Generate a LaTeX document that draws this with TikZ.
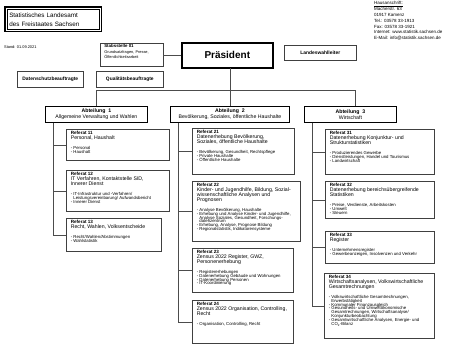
\documentclass[tikz,border=0pt]{standalone}
\usepackage{fontspec}
\setmainfont{Liberation Sans}
\tikzset{
  box/.style={draw=black!75, line width=0.6pt, anchor=north west, inner sep=0pt},
  refbox/.style={draw=black!75, line width=0.6pt, anchor=north west, inner xsep=4.5pt, inner ysep=2.3pt},
  abtbox/.style={draw=black, line width=0.9pt, anchor=north west, inner sep=0pt,
    minimum height=16pt, align=center, font=\fontsize{5.2}{5.9}\selectfont},
  smallbold/.style={font=\fontsize{4.9}{5.5}\selectfont\bfseries},
  link/.style={draw=black!70, line width=0.5pt}
}

\begin{document}
\begin{tikzpicture}[x=1pt, y=-1pt, line cap=rect, line join=miter]
  \useasboundingbox (0,0) rectangle (465,349);

  % Referat box helper: name, x1, y1, x2, y2, text
  \newcommand{\Referat}[6]{%
    \pgfmathsetmacro{\RW}{#4-#2-9}%
    \pgfmathsetmacro{\RH}{#5-#3-4.6}%
    \node[refbox] (#1) at (#2,#3) {\parbox[c][\RH pt][t]{\RW pt}{\raggedright #6}};%
  }
  \newcommand{\RTitle}[1]{{\fontsize{4.6}{5}\selectfont\bfseries #1\par}}
  \newcommand{\RSub}[1]{{\fontsize{5.2}{5}\selectfont #1\par}\vspace{5.4pt}}
  \newcommand{\RItems}[1]{{\fontsize{4.3}{3.9}\selectfont\lineskiplimit=-2pt #1\par}}
  \newcommand{\ind}{\hspace*{2.6pt}}

  % Header
  \node[draw=black, line width=0.5pt, anchor=north west, minimum height=19pt,
    text width=88pt, inner xsep=2pt, align=left,
    font=\fontsize{6.3}{9}\selectfont] (amt) at (7,9)
    {Statistisches Landesamt\\des Freistaates Sachsen};
  \draw[line width=1.4pt] ([shift={(-2pt,2pt)}]amt.north west) rectangle ([shift={(2pt,-2pt)}]amt.south east);
  \node[anchor=west, inner sep=0pt, font=\fontsize{3.9}{4}\selectfont] (stand) at (4,47) {Stand: 01.09.2021};

  % Address
  \node[anchor=north west, inner sep=0pt, align=left, font=\fontsize{4.5}{5.8}\selectfont] (adr) at (374,1.5)
    {\underline{Hausanschrift:}\\Macherstr. 63\\01917 Kamenz\\Tel.: 03578 33-1913\\Fax: 03578 33-1921\\
     Internet: www.statistik.sachsen.de\\E-Mail: info@statistik.sachsen.de};

  % Leadership
  \node[box, inner xsep=4pt, inner ysep=1.5pt] (stab) at (100,43)
    {\parbox[c][20pt][t]{55pt}{\raggedright
      {\fontsize{4.4}{5}\selectfont\bfseries Stabsstelle 01\par}\vspace{1.2pt}
      {\fontsize{3.9}{4.5}\selectfont Grundsatzfragen, Presse,\\\"Offentlichkeitsarbeit\par}}};
  \node[draw=black, line width=1.6pt, anchor=north west, inner sep=0pt,
    minimum width=91pt, minimum height=25pt,
    font=\fontsize{10}{12}\selectfont\bfseries] (pres) at (181,42) {Präsident};
  \node[box, smallbold, minimum width=72pt, minimum height=15pt] (lwl) at (284,45) {Landeswahlleiter};
  \node[box, smallbold, minimum width=66pt, minimum height=16pt] (dsb) at (17,71) {Datenschutzbeauftragte};
  \node[box, smallbold, minimum width=67pt, minimum height=16pt] (qmb) at (96,71) {Qualitätsbeauftragte};

  % Abteilungen
  \node[abtbox, minimum width=102pt] (abt1) at (45,106) {\textbf{Abteilung~~1}\\Allgemeine Verwaltung und Wahlen};
  \node[abtbox, minimum width=119pt] (abt2) at (170,106) {\textbf{Abteilung~~2}\\Bevölkerung, Soziales, öffentliche Haushalte};
  \node[abtbox, minimum width=92pt] (abt3) at (304,106) {\textbf{Abteilung~~3}\\Wirtschaft};

  % Abteilung 1
  \Referat{r11}{66}{129}{169}{160}{\RTitle{Referat 11}\RSub{Personal, Haushalt}
    \RItems{- Personal\\- Haushalt}}
  \Referat{r12}{66}{170}{169}{211}{\RTitle{Referat 12}\RSub{IT Verfahren, Kontaktstelle SID,\\Innerer Dienst}
    \RItems{- IT-Infrastruktur und -Verfahren/\\\ind Leistungsvereinbarung/ Aufwandsbericht\\- Innerer Dienst}}
  \Referat{r13}{66}{218}{161}{251}{\RTitle{Referat 13}\RSub{Recht, Wahlen, Volksentscheide}
    \RItems{- Recht/Wahlen/Abstimmungen\\- Wahlstatistik}}

  % Abteilung 2
  \Referat{r21}{192}{128}{294}{174}{\RTitle{Referat 21}\RSub{Datenerhebung Bevölkerung,\\Soziales, öffentliche Haushalte}
    \RItems{- Bevölkerung, Gesundheit, Rechtspflege\\- Private Haushalte\\- Öffentliche Haushalte}}
  \Referat{r22}{192}{181}{300}{241}{\RTitle{Referat 22}\RSub{Kinder- und Jugendhilfe, Bildung, Sozial-\\wissenschaftliche Analysen und Prognosen}
    \RItems{- Analyse Bevölkerung, Haushalte\\- Erhebung und Analyse Kinder- und Jugendhilfe,\\\ind Analyse Soziales, Gesundheit, Forschungs-\\\ind datenzentrum\\- Erhebung, Analyse, Prognose Bildung\\- Regionalstatistik, Indikatorensysteme}}
  \Referat{r23}{192}{248}{293}{292}{\RTitle{Referat 23}\RSub{Zensus 2022 Register, GWZ,\\Personenerhebung}
    \RItems{- Registererhebungen\\- Datenerhebung Gebäude und Wohnungen\\- Datenerhebung Personen\\- IT-Koordinierung}}
  \Referat{r24}{192}{300}{293}{343}{\RTitle{Referat 24}\RSub{Zensus 2022 Organisation, Controlling,\\Recht}
    \RItems{- Organisation, Controlling, Recht}}

  % Abteilung 3
  \Referat{r31}{325}{129}{434}{174}{\RTitle{Referat 31}\RSub{Datenerhebung Konjunktur- und\\Strukturstatistiken}
    \RItems{- Produzierendes Gewerbe\\- Dienstleistungen, Handel und Tourismus\\- Landwirtschaft}}
  \Referat{r32}{325}{181}{434}{218}{\RTitle{Referat 32}\RSub{Datenerhebung bereichsübergreifende\\Statistiken}
    \RItems{- Preise, Verdienste, Arbeitskosten\\- Umwelt\\- Steuern}}
  \Referat{r33}{325}{231}{434}{263}{\RTitle{Referat 33}\RSub{Register}
    \RItems{- Unternehmensregister\\- Gewerbeanzeigen, Insolvenzen und Verkehr}}
  \Referat{r34}{324}{273}{434}{338}{\RTitle{Referat 34}\RSub{Wirtschaftsanalysen, Volkswirtschaftliche\\Gesamtrechnungen}
    \RItems{- Volkswirtschaftliche Gesamtrechnungen,\\\ind Erwerbstätigkeit\\- Kommunaler Finanzausgleich\\- Gesundheits- und Umweltökonomische\\\ind Gesamtrechnungen, Wirtschaftsanalyse/\\\ind Konjunkturbeobachtung\\- Gesamtwirtschaftliche Analysen, Energie- und\\\ind CO\textsubscript{2}-Bilanz}}

  % Connectors at the top
  \coordinate (bar) at (0,90);
  \coordinate (a3) at (abt3.north -| 355,0);
  \draw[link] (stab.east) -- (stab.east -| pres.west);
  \draw[link] (pres.south -| abt2.north) -- (abt2.north);
  \draw[link] (abt1.north) |- (a3 |- bar) -- (a3);

  % Spines to the Referate
  \coordinate (s1) at (abt1.south -| 53,0);
  \coordinate (s2) at (abt2.south -| 178,0);
  \coordinate (s3) at (abt3.south -| 312,0);
  \draw[link] (s1) |- (r13.west);
  \draw[link] (r11.west) -- (r11.west -| s1);
  \draw[link] (r12.west) -- (r12.west -| s1);
  \draw[link] (s2) |- (r24.west);
  \draw[link] (r21.west) -- (r21.west -| s2);
  \draw[link] (r22.west) -- (r22.west -| s2);
  \draw[link] (r23.west) -- (r23.west -| s2);
  \draw[link] (s3) |- (r34.west);
  \draw[link] (r31.west) -- (r31.west -| s3);
  \draw[link] (r32.west) -- (r32.west -| s3);
  \draw[link] (r33.west) -- (r33.west -| s3);
\end{tikzpicture}
\end{document}
